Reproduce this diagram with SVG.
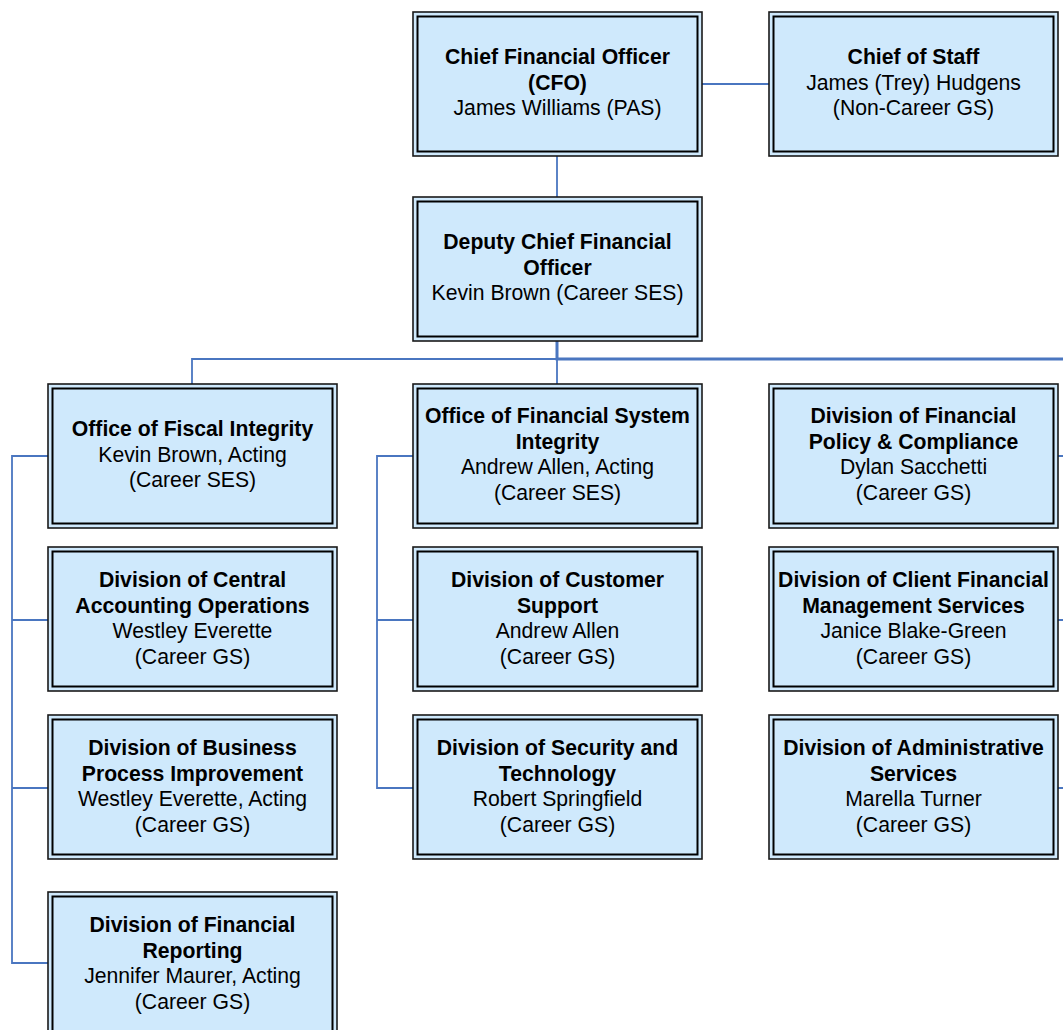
<svg xmlns="http://www.w3.org/2000/svg" width="1063" height="1030" viewBox="0 0 1063 1030">
<style>
.o{fill:#cfe9fc;stroke:#1a1a1a;stroke-width:1.6}
.i{fill:none;stroke:#000;stroke-width:2}
text{font-family:"Liberation Sans",Arial,sans-serif;font-size:21.2px;fill:#000;text-anchor:middle}
.b{font-weight:bold}
.c{fill:none;stroke:#4a76c0;stroke-width:1.8}
.t{fill:none;stroke:#4a76c0;stroke-width:3}
</style>
<rect width="1063" height="1030" fill="#fff"/>
<g id="connectors">
<path class="c" d="M702 84H769"/>
<path class="c" d="M557 155V197"/>
<path class="t" d="M557 341V359H1063"/>
<path class="c" d="M192 384V359H557V384"/>
<path class="c" d="M48 456H12V963H48M12 620H48M12 788H48"/>
<path class="c" d="M413 456H377V788H413M377 620H413"/>
<path class="c" d="M1058 456H1063M1058 620H1063M1058 788H1063"/>
</g>
<g id="cfo">
<rect class="o" x="413" y="12" width="289" height="144"/><rect class="i" x="417.5" y="16.5" width="280" height="135"/>
<text class="b" x="557.5" y="64">Chief Financial Officer</text>
<text class="b" x="557.5" y="89.5">(CFO)</text>
<text x="557.5" y="115">James Williams (PAS)</text>
</g>
<g id="cos">
<rect class="o" x="769" y="12" width="289" height="144"/><rect class="i" x="773.5" y="16.5" width="280" height="135"/>
<text class="b" x="913.5" y="64">Chief of Staff</text>
<text x="913.5" y="89.5">James (Trey) Hudgens</text>
<text x="913.5" y="115">(Non-Career GS)</text>
</g>
<g id="deputy">
<rect class="o" x="413" y="197" width="289" height="144"/><rect class="i" x="417.5" y="201.5" width="280" height="135"/>
<text class="b" x="557.5" y="249">Deputy Chief Financial</text>
<text class="b" x="557.5" y="274.5">Officer</text>
<text x="557.5" y="300">Kevin Brown (Career SES)</text>
</g>
<g id="ofi">
<rect class="o" x="48" y="384" width="289" height="144"/><rect class="i" x="52.5" y="388.5" width="280" height="135"/>
<text class="b" x="192.5" y="436">Office of Fiscal Integrity</text>
<text x="192.5" y="461.5">Kevin Brown, Acting</text>
<text x="192.5" y="487">(Career SES)</text>
</g>
<g id="ofsi">
<rect class="o" x="413" y="384" width="289" height="144"/><rect class="i" x="417.5" y="388.5" width="280" height="135"/>
<text class="b" x="557.5" y="423">Office of Financial System</text>
<text class="b" x="557.5" y="448.5">Integrity</text>
<text x="557.5" y="474">Andrew Allen, Acting</text>
<text x="557.5" y="499.5">(Career SES)</text>
</g>
<g id="dfpc">
<rect class="o" x="769" y="384" width="289" height="144"/><rect class="i" x="773.5" y="388.5" width="280" height="135"/>
<text class="b" x="913.5" y="423">Division of Financial</text>
<text class="b" x="913.5" y="448.5">Policy &amp; Compliance</text>
<text x="913.5" y="474">Dylan Sacchetti</text>
<text x="913.5" y="499.5">(Career GS)</text>
</g>
<g id="dcao">
<rect class="o" x="48" y="547" width="289" height="144"/><rect class="i" x="52.5" y="551.5" width="280" height="135"/>
<text class="b" x="192.5" y="587">Division of Central</text>
<text class="b" x="192.5" y="612.5">Accounting Operations</text>
<text x="192.5" y="638">Westley Everette</text>
<text x="192.5" y="663.5">(Career GS)</text>
</g>
<g id="dcs">
<rect class="o" x="413" y="547" width="289" height="144"/><rect class="i" x="417.5" y="551.5" width="280" height="135"/>
<text class="b" x="557.5" y="587">Division of Customer</text>
<text class="b" x="557.5" y="612.5">Support</text>
<text x="557.5" y="638">Andrew Allen</text>
<text x="557.5" y="663.5">(Career GS)</text>
</g>
<g id="dcfms">
<rect class="o" x="769" y="547" width="289" height="144"/><rect class="i" x="773.5" y="551.5" width="280" height="135"/>
<text class="b" x="913.5" y="587">Division of Client Financial</text>
<text class="b" x="913.5" y="612.5">Management Services</text>
<text x="913.5" y="638">Janice Blake-Green</text>
<text x="913.5" y="663.5">(Career GS)</text>
</g>
<g id="dbpi">
<rect class="o" x="48" y="715" width="289" height="144"/><rect class="i" x="52.5" y="719.5" width="280" height="135"/>
<text class="b" x="192.5" y="755">Division of Business</text>
<text class="b" x="192.5" y="780.5">Process Improvement</text>
<text x="192.5" y="806">Westley Everette, Acting</text>
<text x="192.5" y="831.5">(Career GS)</text>
</g>
<g id="dst">
<rect class="o" x="413" y="715" width="289" height="144"/><rect class="i" x="417.5" y="719.5" width="280" height="135"/>
<text class="b" x="557.5" y="755">Division of Security and</text>
<text class="b" x="557.5" y="780.5">Technology</text>
<text x="557.5" y="806">Robert Springfield</text>
<text x="557.5" y="831.5">(Career GS)</text>
</g>
<g id="das">
<rect class="o" x="769" y="715" width="289" height="144"/><rect class="i" x="773.5" y="719.5" width="280" height="135"/>
<text class="b" x="913.5" y="755">Division of Administrative</text>
<text class="b" x="913.5" y="780.5">Services</text>
<text x="913.5" y="806">Marella Turner</text>
<text x="913.5" y="831.5">(Career GS)</text>
</g>
<g id="dfr">
<rect class="o" x="48" y="892" width="289" height="144"/><rect class="i" x="52.5" y="896.5" width="280" height="135"/>
<text class="b" x="192.5" y="932">Division of Financial</text>
<text class="b" x="192.5" y="957.5">Reporting</text>
<text x="192.5" y="983">Jennifer Maurer, Acting</text>
<text x="192.5" y="1008.5">(Career GS)</text>
</g>
</svg>
